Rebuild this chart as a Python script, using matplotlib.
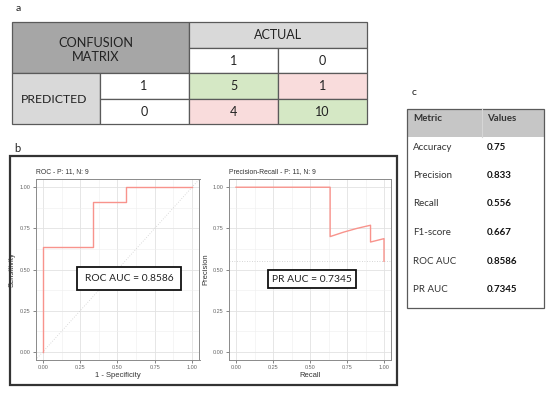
import matplotlib
matplotlib.use("Agg")
import matplotlib.pyplot as plt
from matplotlib.patches import Rectangle

# ---------------- data ----------------
cm_actual_labels = ["1", "0"]
cm_pred_labels = ["1", "0"]
cm_values = [[5, 1], [4, 10]]

metric_names = ["Accuracy", "Precision", "Recall", "F1-score", "ROC AUC", "PR AUC"]
metric_values = ["0.75", "0.833", "0.556", "0.667", "0.8586", "0.7345"]

roc_fpr = [0.0, 0.0, 0.333, 0.333, 0.556, 0.556, 1.0]
roc_tpr = [0.0, 0.636, 0.636, 0.909, 0.909, 1.0, 1.0]
roc_auc = 0.8586

pr_recall = [0.0, 0.636, 0.636, 0.727, 0.818, 0.909, 0.909, 1.0, 1.0]
pr_precision = [1.0, 1.0, 0.70, 0.727, 0.75, 0.769, 0.667, 0.6875, 0.55]
pr_baseline = 0.55
pr_auc = 0.7345

n_pos, n_neg = 11, 9
ticks = [0.0, 0.25, 0.50, 0.75, 1.00]
tick_labels = ["0.00", "0.25", "0.50", "0.75", "1.00"]

# ---------------- figure ----------------
W, H = 550, 394
fig = plt.figure(figsize=(W / 100, H / 100), dpi=100)
TF = "Lato"
GF = "Liberation Sans"

bg = fig.add_axes([0, 0, 1, 1], zorder=0)
bg.set_xlim(0, W)
bg.set_ylim(H, 0)
bg.axis("off")

edge = "#5a5a5a"
green = "#d5e8c5"
pink = "#f9dcdc"
dgrey = "#a6a6a6"
lgrey = "#d9d9d9"


def cell(x0, y0, x1, y1, fc, lw=0.9):
    bg.add_patch(Rectangle((x0, y0), x1 - x0, y1 - y0, facecolor=fc,
                           edgecolor=edge, linewidth=lw))


def txt(x, y, s, size=9, ha="center", weight="normal", color="#222222", ax=bg, fam=TF):
    ax.text(x, y, s, ha=ha, va="center", fontsize=size, fontweight=weight,
            color=color, family=fam)


# panel labels
txt(18, 8, "a", size=7.5)
txt(17, 148, "b", size=8)
txt(414, 92, "c", size=7.5)

# ---- confusion matrix table ----
xs = [12, 100, 189, 278, 367]
ys = [22, 48, 73, 99, 124]
cell(xs[0], ys[0], xs[2], ys[2], dgrey)
cell(xs[2], ys[0], xs[4], ys[1], lgrey)
cell(xs[2], ys[1], xs[3], ys[2], "white")
cell(xs[3], ys[1], xs[4], ys[2], "white")
cell(xs[0], ys[2], xs[1], ys[4], lgrey)
fills = [[green, pink], [pink, green]]
for i in range(2):
    cell(xs[1], ys[2 + i], xs[2], ys[3 + i], "white")
    for j in range(2):
        cell(xs[2 + j], ys[2 + i], xs[3 + j], ys[3 + i], fills[i][j])
txt(96, 50, "CONFUSION\nMATRIX", size=9.2)
txt(278, 35, "ACTUAL", size=9)
for j, lab in enumerate(cm_actual_labels):
    txt((xs[2 + j] + xs[3 + j]) / 2, 61, lab, size=9)
txt(54, 99, "PREDICTED", size=8.8)
for i, lab in enumerate(cm_pred_labels):
    yc = (ys[2 + i] + ys[3 + i]) / 2
    txt(144, yc, lab, size=9)
    for j in range(2):
        txt((xs[2 + j] + xs[3 + j]) / 2, yc, str(cm_values[i][j]), size=9)

# ---- metrics table ----
bg.add_patch(Rectangle((407, 109), 137, 28, facecolor="#c6c6c6", edgecolor="none"))
bg.plot([482, 482], [109, 137], color="#d6d6d6", lw=0.8)
bg.add_patch(Rectangle((407, 109), 137, 199, facecolor="none", edgecolor=edge, linewidth=0.9))
txt(413, 118, "Metric", size=7, ha="left", weight="bold", color="#333333")
txt(487, 118, "Values", size=7, ha="left", weight="bold", color="#333333")
row_y = [147, 175, 203, 232, 261, 289]
for yy, name, val in zip(row_y, metric_names, metric_values):
    txt(413, yy, name, size=7, ha="left", color="#333333")
    txt(487, yy, val, size=7, ha="left", weight="bold", color="#111111")

# ---- outer box b ----
bg.add_patch(Rectangle((10, 156), 387, 229, facecolor="none", edgecolor="#333333", linewidth=1.6))


# ---- plot panels ----
def make_panel(left, right, top, bottom):
    return fig.add_axes([left / W, (H - bottom) / H, (right - left) / W, (bottom - top) / H], zorder=2)


line_col = "#f8938c"


def style(ax, title, xlabel, ylabel):
    ax.set_xlim(-0.05, 1.05)
    ax.set_ylim(-0.05, 1.05)
    ax.set_xticks(ticks)
    ax.set_xticklabels(tick_labels)
    ax.set_yticks(ticks)
    ax.set_yticklabels(tick_labels)
    ax.set_xticks([0.125, 0.375, 0.625, 0.875], minor=True)
    ax.set_yticks([0.125, 0.375, 0.625, 0.875], minor=True)
    ax.grid(which="major", color="#e2e2e2", lw=0.6)
    ax.grid(which="minor", color="#eeeeee", lw=0.4)
    ax.set_axisbelow(True)
    for s in ax.spines.values():
        s.set_color("#8a8a8a")
        s.set_linewidth(0.7)
    ax.tick_params(which="major", length=2.2, width=0.5, color="#555555",
                   labelsize=4.0, labelcolor="#666666", pad=1.5)
    ax.tick_params(which="minor", length=0)
    for lab in ax.get_xticklabels() + ax.get_yticklabels():
        lab.set_family(GF)
    ax.set_title(title, loc="left", fontsize=4.9, family=GF, color="#333333", pad=4)
    ax.set_xlabel(xlabel, fontsize=5.5, family=GF, color="#333333", labelpad=1.5)
    ax.set_ylabel(ylabel, fontsize=5.5, family=GF, color="#333333", labelpad=2.5)


roc = make_panel(35.5, 199.5, 179, 360)
style(roc, f"ROC - P: {n_pos}, N: {n_neg}", "1 - Specificity", "Sensitivity")
roc.axline((0, 0), (1, 1), color="#cfcfcf", lw=0.6, ls=(0, (1, 2)))
roc.plot(roc_fpr, roc_tpr, color=line_col, lw=1.0)

pr = make_panel(228.6, 391.4, 179, 360)
style(pr, f"Precision-Recall - P: {n_pos}, N: {n_neg}", "Recall", "Precision")
pr.axhline(pr_baseline, color="#c8c8c8", lw=0.6, ls=(0, (1, 2)))
pr.plot(pr_recall, pr_precision, color=line_col, lw=1.0)

# ---- AUC annotation boxes (overlay) ----
ov = fig.add_axes([0, 0, 1, 1], zorder=5)
ov.set_xlim(0, W)
ov.set_ylim(H, 0)
ov.axis("off")
ov.patch.set_alpha(0)
ov.add_patch(Rectangle((77, 267), 104, 23, facecolor="white", edgecolor="#111111", linewidth=1.3))
txt(129, 278.5, f"ROC AUC = {roc_auc}", size=7.4, ax=ov)
ov.add_patch(Rectangle((268, 270), 88, 18, facecolor="white", edgecolor="#111111", linewidth=1.3))
txt(312, 279, f"PR AUC = {pr_auc}", size=7.4, ax=ov)

fig.savefig("out.png", dpi=100)
